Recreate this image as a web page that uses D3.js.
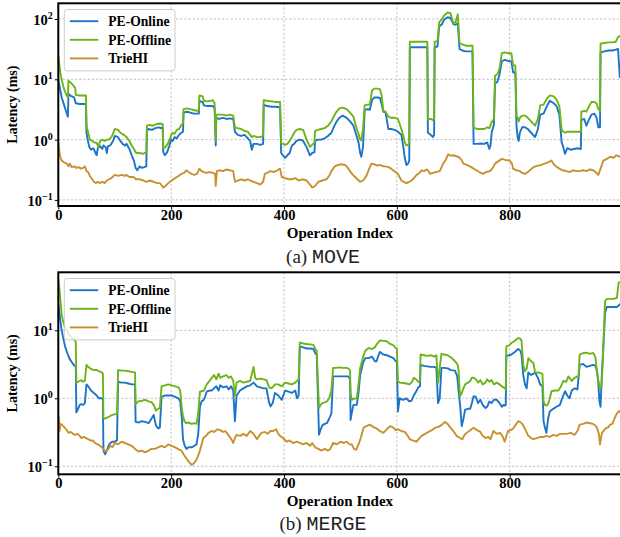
<!DOCTYPE html>
<html><head><meta charset="utf-8">
<script src="https://cdn.jsdelivr.net/npm/d3@7"></script>
<style>body{margin:0;background:#fff}svg{display:block}</style>
</head><body>
<svg id="c" width="620" height="537"></svg>
<script>
const seriesNames = ["PE-Online", "PE-Offline", "TrieHI"];
const seriesColors = ["#1c74c8", "#6db31a", "#c8912f"];
const xTicks = [0, 200, 400, 600, 800];
const moveYTicks = [0.1, 1, 10, 100];
const mergeYTicks = [0.1, 1, 10];
const captions = [["(a)", "MOVE"], ["(b)", "MERGE"]];

const moveOnline = [[0,10],[3,7],[6,5],[10,3.8],[14,2.9],[17,2.4],[18,5.8],[22,5.3],[28,5.0],[31,4.0],[38,3.9],[44,3.9],[49,3.9],[50,1.3],[52,1.0],[55,0.75],[58,0.68],[62,0.72],[66,0.6],[68,0.55],[70,0.72],[74,0.78],[78,0.7],[80,0.8],[84,0.75],[86,0.6],[88,0.78],[92,0.8],[97,0.95],[100,1.15],[106,1.1],[110,0.95],[114,0.85],[118,0.8],[121,0.85],[126,0.7],[130,0.55],[134,0.45],[137,0.34],[140,0.31],[144,0.36],[148,0.34],[152,0.35],[156,0.36],[157,1.4],[160,1.5],[166,1.45],[172,1.55],[178,1.6],[182,1.55],[185,1.6],[186,0.62],[189,0.55],[193,0.62],[197,0.8],[200,1.0],[203,0.95],[206,1.1],[210,1.05],[214,1.2],[218,1.3],[221,1.35],[222,2.8],[228,2.9],[234,2.8],[240,2.7],[246,2.7],[249,2.7],[250,4.4],[256,4.2],[258,3.7],[264,3.6],[270,3.6],[274,3.6],[277,3.3],[279,0.8],[280,2.3],[285,2.2],[292,2.3],[298,2.2],[304,2.25],[310,2.2],[313,1.35],[318,1.2],[324,1.15],[330,1.2],[336,1.05],[340,0.95],[343,0.68],[346,0.85],[352,0.85],[358,0.82],[363,0.85],[364,3.8],[370,3.6],[378,3.5],[386,3.5],[393,3.4],[395,0.6],[398,0.55],[402,0.5],[406,0.55],[410,0.6],[414,0.8],[418,0.85],[422,0.95],[428,1.0],[434,0.95],[440,0.75],[446,0.55],[450,0.6],[454,0.62],[455,0.95],[460,1.0],[466,1.0],[472,1.05],[478,1.15],[484,1.3],[488,1.6],[492,1.9],[498,2.3],[504,2.5],[511,2.3],[517,2.0],[523,1.7],[528,1.2],[532,0.9],[535,0.6],[537,0.52],[540,0.75],[543,3.1],[548,3.2],[552,3.1],[556,4.5],[560,5.0],[566,5.0],[570,4.9],[573,3.9],[576,2.9],[580,2.8],[585,1.5],[590,1.5],[596,1.45],[602,1.35],[608,1.2],[612,0.7],[614,0.5],[617,0.38],[620,0.4],[622,0.45],[623,34],[630,34],[640,34],[650,34],[654,34],[655,1.3],[660,1.2],[664,1.1],[666,1.2],[667,34],[672,35],[675,75],[680,82],[684,98],[690,107],[695,104],[700,82],[704,80],[708,85],[711,32],[716,30],[722,29],[728,29],[734,29],[736,0.85],[742,0.85],[748,0.86],[755,0.85],[760,0.9],[764,0.7],[766,0.8],[768,1.3],[772,1.8],[774,8.5],[778,9],[782,12],[786,20],[792,21],[798,20],[803,20],[806,13],[810,13],[812,1.7],[814,1.1],[816,0.95],[818,1.3],[822,1.6],[827,1.6],[832,1.5],[838,1.3],[845,1.1],[850,1.5],[854,2.6],[860,2.7],[866,3.6],[871,4.4],[878,4.0],[883,3.6],[888,2.6],[892,0.9],[895,0.75],[898,0.58],[902,0.72],[908,0.68],[914,0.7],[920,0.72],[926,0.7],[927,2.1],[932,2.2],[936,1.7],[940,2.1],[945,2.6],[950,2.7],[954,2.3],[957,1.6],[960,1.6],[961,28],[968,29],[975,30],[982,30],[988,31],[992,32],[995,11],[999,10]];

const moveOffline = [[0,25],[2,17],[4,12],[7,9],[10,7],[14,5.6],[17,5.0],[18,9.5],[22,8.8],[26,8],[30,7.2],[31,5.5],[38,5.4],[44,5.4],[49,5.4],[50,1.7],[53,1.3],[56,1.0],[60,0.95],[64,0.9],[68,0.88],[71,0.75],[74,0.95],[78,1.0],[82,0.95],[86,1.0],[90,1.0],[94,1.1],[97,1.25],[100,1.5],[106,1.45],[110,1.3],[116,1.2],[121,1.1],[126,0.95],[130,0.8],[134,0.7],[138,0.6],[144,0.6],[150,0.58],[156,0.62],[157,1.7],[162,1.75],[168,1.7],[174,1.8],[180,1.85],[185,1.8],[186,0.72],[190,0.75],[194,0.85],[198,1.05],[202,1.3],[206,1.25],[210,1.45],[214,1.5],[218,1.75],[221,1.85],[222,3.2],[228,3.3],[234,3.2],[240,3.1],[246,3.0],[249,3.1],[250,5.4],[256,5.2],[258,4.4],[264,4.3],[270,4.4],[274,4.5],[277,4.0],[279,0.95],[280,2.6],[285,2.6],[292,2.6],[298,2.5],[304,2.6],[310,2.5],[313,1.6],[318,1.55],[324,1.5],[330,1.4],[336,1.35],[340,1.2],[343,1.1],[346,1.15],[352,1.1],[358,1.1],[363,1.15],[364,4.5],[370,4.4],[378,4.3],[386,4.2],[393,4.2],[395,0.86],[398,0.85],[402,0.82],[406,0.85],[410,0.95],[414,1.1],[418,1.3],[422,1.45],[428,1.5],[434,1.45],[440,1.0],[446,0.76],[450,0.82],[454,0.9],[455,1.4],[460,1.45],[466,1.5],[472,1.55],[478,1.7],[484,2.0],[488,2.4],[492,2.8],[498,3.3],[504,3.4],[511,3.2],[517,2.8],[523,2.4],[528,1.6],[532,1.25],[535,1.0],[537,0.97],[540,1.5],[543,3.7],[548,3.8],[552,3.8],[556,6.5],[560,7.0],[566,7.0],[570,6.8],[573,5.4],[576,3.0],[580,2.9],[585,2.4],[590,2.3],[596,2.3],[602,2.2],[608,1.5],[612,1.1],[614,0.9],[617,0.8],[620,0.82],[622,0.85],[623,42],[630,42],[640,42],[650,42],[654,42],[655,2.2],[660,2.2],[664,2.1],[666,2.2],[667,42],[672,43],[675,88],[680,100],[684,115],[690,128],[695,125],[700,85],[704,88],[708,120],[711,40],[716,38],[722,36],[728,36],[734,36],[736,1.6],[742,1.5],[748,1.5],[755,1.5],[760,1.6],[764,1.55],[768,1.95],[772,2.2],[774,11.5],[778,12],[782,15],[786,27],[792,28],[798,27],[803,27],[806,17],[810,17],[812,2.5],[814,2.3],[816,2.0],[818,2.3],[822,2.5],[827,2.5],[832,2.3],[838,2.0],[845,1.7],[850,2.2],[854,3.7],[860,3.8],[866,4.8],[871,5.4],[878,5.2],[883,4.6],[888,3.6],[892,1.45],[895,1.35],[898,1.3],[902,1.35],[908,1.35],[914,1.35],[920,1.35],[926,1.35],[927,2.9],[932,3.0],[936,2.9],[940,3.5],[945,4.2],[950,4.2],[954,4.0],[957,3.2],[960,3.0],[961,39],[968,40],[975,41],[982,41],[988,42],[992,50],[995,52],[999,50]];

const moveTrie = [[0,0.92],[2,0.6],[4,0.5],[6,0.45],[10,0.42],[15,0.4],[18,0.36],[20,0.4],[24,0.35],[28,0.36],[32,0.34],[36,0.35],[40,0.33],[44,0.34],[47,0.36],[50,0.3],[53,0.29],[56,0.25],[60,0.22],[63,0.2],[67,0.19],[70,0.2],[74,0.19],[78,0.2],[82,0.19],[86,0.21],[90,0.22],[94,0.23],[100,0.26],[106,0.25],[112,0.26],[118,0.25],[121,0.26],[126,0.24],[133,0.24],[138,0.22],[144,0.22],[151,0.21],[156,0.2],[162,0.21],[169,0.2],[175,0.19],[180,0.19],[184,0.17],[186,0.16],[190,0.17],[195,0.19],[201,0.21],[207,0.23],[213,0.25],[218,0.27],[223,0.28],[227,0.31],[231,0.29],[236,0.27],[241,0.26],[246,0.27],[250,0.33],[254,0.3],[258,0.29],[263,0.28],[268,0.29],[274,0.28],[278,0.27],[279,0.17],[281,0.3],[286,0.31],[292,0.3],[298,0.32],[304,0.31],[310,0.3],[313,0.2],[318,0.21],[324,0.22],[330,0.21],[336,0.22],[340,0.21],[346,0.2],[352,0.19],[358,0.18],[363,0.2],[366,0.27],[370,0.28],[376,0.3],[382,0.29],[388,0.31],[393,0.33],[396,0.24],[402,0.23],[408,0.22],[414,0.22],[420,0.23],[426,0.21],[432,0.22],[440,0.21],[446,0.18],[450,0.16],[455,0.17],[461,0.2],[468,0.21],[475,0.22],[480,0.25],[484,0.3],[490,0.36],[496,0.38],[502,0.39],[508,0.38],[511,0.36],[517,0.3],[522,0.26],[526,0.24],[530,0.22],[535,0.2],[540,0.21],[546,0.25],[551,0.33],[555,0.4],[560,0.39],[566,0.37],[570,0.38],[576,0.36],[580,0.36],[585,0.35],[590,0.33],[596,0.3],[602,0.27],[608,0.21],[612,0.2],[617,0.19],[622,0.2],[626,0.21],[630,0.23],[635,0.26],[640,0.28],[644,0.31],[648,0.3],[653,0.32],[656,0.3],[659,0.27],[664,0.28],[670,0.29],[676,0.3],[682,0.4],[686,0.45],[691,0.57],[696,0.54],[700,0.55],[705,0.53],[709,0.52],[714,0.47],[718,0.4],[724,0.38],[732,0.35],[736,0.33],[741,0.31],[746,0.29],[753,0.27],[758,0.29],[765,0.3],[770,0.34],[774,0.4],[780,0.44],[786,0.48],[792,0.46],[800,0.45],[804,0.4],[806,0.33],[812,0.31],[818,0.3],[822,0.28],[827,0.27],[832,0.29],[836,0.31],[842,0.35],[850,0.37],[856,0.38],[862,0.4],[868,0.42],[874,0.45],[878,0.39],[882,0.36],[888,0.33],[894,0.31],[900,0.3],[906,0.29],[912,0.31],[918,0.3],[924,0.3],[930,0.31],[936,0.3],[942,0.32],[948,0.31],[952,0.29],[957,0.26],[962,0.35],[966,0.45],[972,0.48],[978,0.52],[984,0.5],[989,0.55],[995,0.52],[999,0.5]];

const mergeOnline = [[0,25],[2,18],[4,13],[6,10],[9,7.5],[12,5.8],[16,4.6],[20,3.8],[25,3.3],[29,3.0],[31,2.9],[32,0.62],[35,0.7],[38,0.8],[41,0.82],[44,0.8],[47,0.85],[50,1.6],[53,1.5],[58,1.3],[63,1.2],[68,1.1],[72,1.0],[77,1.0],[79,0.95],[80,0.17],[83,0.15],[86,0.17],[89,0.2],[92,0.22],[96,0.23],[100,0.23],[104,0.24],[106,1.75],[112,1.7],[118,1.7],[124,1.65],[130,1.6],[136,1.6],[137,0.45],[142,0.44],[148,0.46],[154,0.45],[160,0.43],[165,0.5],[169,0.57],[173,0.4],[177,0.36],[180,0.37],[183,1.05],[189,1.1],[195,1.1],[201,1.1],[207,1.05],[213,1.0],[216,0.9],[219,0.5],[221,0.25],[224,0.2],[227,0.18],[231,0.19],[236,0.19],[241,0.2],[245,0.21],[248,0.3],[251,0.75],[254,0.9],[258,0.95],[263,1.25],[268,1.3],[272,1.3],[276,1.4],[280,1.5],[284,1.3],[287,1.55],[292,1.45],[298,1.5],[302,1.35],[306,1.5],[310,1.3],[313,0.46],[316,1.1],[322,1.3],[328,1.4],[334,1.5],[340,1.55],[346,1.7],[352,1.5],[358,1.45],[364,1.4],[369,1.4],[373,0.9],[376,0.76],[380,0.85],[384,1.2],[390,1.1],[396,0.95],[402,1.3],[408,1.25],[414,1.2],[420,1.3],[423,1.0],[426,1.1],[428,5.8],[434,5.6],[440,5.4],[446,5.4],[452,5.3],[456,4.5],[458,4.4],[462,0.29],[465,0.35],[468,0.4],[472,0.42],[476,0.43],[480,0.5],[484,0.6],[487,2.1],[492,2.1],[498,2.1],[504,2.1],[510,2.1],[514,2.1],[517,1.9],[518,0.48],[520,0.6],[523,0.8],[529,0.8],[532,1.2],[535,2.2],[540,3.3],[544,3.9],[550,3.9],[556,4.1],[561,3.5],[564,3.5],[567,4.2],[570,4.8],[576,4.4],[582,4.3],[588,4.1],[594,3.9],[597,3.6],[600,3.4],[602,0.64],[605,1.0],[611,0.95],[617,1.0],[622,0.9],[626,0.92],[630,1.1],[634,1.25],[638,1.45],[641,1.5],[642,3.1],[648,3.0],[654,2.95],[660,2.9],[666,2.9],[670,2.8],[673,0.85],[676,1.0],[679,2.8],[684,2.8],[690,2.75],[696,2.6],[703,2.55],[707,2.1],[709,1.4],[712,0.8],[715,0.39],[718,0.5],[721,0.68],[726,0.7],[730,0.7],[733,0.85],[736,1.07],[740,1.05],[744,0.85],[748,0.95],[752,0.8],[757,0.72],[760,0.75],[764,0.9],[768,0.85],[772,0.95],[777,0.95],[782,0.85],[786,0.75],[789,0.8],[791,0.78],[793,0.8],[794,4.2],[799,4.3],[803,4.4],[809,4.8],[815,5.3],[819,5.0],[821,4.3],[824,2.2],[827,1.6],[830,1.4],[833,2.4],[838,2.2],[842,2.3],[845,2.4],[850,2.0],[854,1.6],[858,1.5],[860,0.46],[862,0.38],[865,0.31],[868,0.5],[871,0.64],[877,0.7],[883,0.75],[889,0.8],[893,1.0],[898,1.27],[902,1.1],[906,1.0],[910,1.3],[915,1.4],[920,1.35],[924,3.1],[930,3.2],[936,2.9],[942,3.0],[948,3.1],[952,3.0],[955,2.5],[957,1.7],[959,0.9],[961,0.75],[963,2.0],[966,5.8],[969,18],[972,22],[978,22],[984,22],[990,22],[995,24],[999,25]];

const mergeOffline = [[0,55],[2,40],[4,26],[6,17],[9,13],[12,11],[16,9.5],[20,8.5],[25,7.6],[29,7.1],[31,6.8],[32,1.7],[35,1.75],[38,1.8],[41,1.85],[44,1.75],[47,1.8],[50,3.1],[53,2.9],[58,2.7],[63,2.6],[68,2.6],[72,2.5],[77,2.4],[79,2.3],[80,0.52],[83,0.5],[86,0.52],[89,0.53],[92,0.55],[96,0.57],[100,0.58],[104,0.6],[106,2.6],[112,2.55],[118,2.55],[124,2.5],[130,2.45],[136,2.4],[137,0.82],[142,0.9],[148,0.92],[154,0.95],[160,0.9],[165,0.88],[169,0.8],[173,0.66],[177,0.7],[180,0.72],[183,1.5],[189,1.55],[195,1.6],[201,1.55],[207,1.5],[213,1.45],[216,1.3],[219,0.7],[221,0.55],[224,0.45],[227,0.43],[231,0.44],[236,0.42],[241,0.43],[245,0.42],[248,0.6],[251,1.25],[254,1.27],[258,1.3],[263,1.6],[268,1.8],[272,2.0],[276,2.2],[280,1.9],[284,2.3],[287,2.0],[292,2.1],[298,2.2],[302,2.0],[306,2.1],[310,1.8],[313,1.1],[316,1.7],[322,1.8],[328,1.7],[334,1.75],[340,1.8],[346,2.9],[349,2.0],[352,1.9],[358,1.95],[364,1.9],[369,1.85],[373,1.5],[376,1.4],[380,1.45],[384,1.6],[390,1.6],[396,1.5],[402,1.7],[408,1.65],[414,1.6],[420,1.7],[423,1.8],[426,1.9],[428,6.6],[434,6.4],[440,6.3],[446,6.2],[452,6.1],[456,5.2],[458,5.0],[462,0.72],[465,0.8],[468,0.85],[472,0.87],[476,0.9],[480,1.0],[484,1.3],[487,2.8],[492,2.8],[498,2.85],[504,2.8],[510,2.8],[514,2.75],[517,2.6],[518,1.2],[520,0.95],[523,0.98],[529,1.0],[532,1.6],[535,2.8],[540,4.0],[544,5.0],[550,5.5],[556,5.3],[561,5.6],[564,6.2],[567,6.6],[570,7.1],[576,7.0],[582,6.9],[588,6.3],[594,6.0],[597,5.6],[600,5.4],[602,1.78],[605,1.7],[611,1.68],[617,1.65],[622,1.6],[626,1.7],[630,2.0],[634,1.9],[638,1.75],[641,1.8],[642,4.4],[648,4.3],[654,4.2],[660,4.3],[666,4.1],[670,4.3],[673,1.7],[676,2.8],[679,4.5],[684,4.4],[690,4.3],[696,4.0],[703,3.5],[707,3.2],[709,2.8],[712,1.07],[715,1.2],[718,1.4],[721,1.6],[726,1.7],[730,1.8],[733,2.0],[736,2.0],[740,1.9],[744,1.7],[748,1.85],[752,1.6],[757,1.7],[760,1.9],[764,1.75],[768,1.85],[772,1.6],[777,1.7],[782,1.6],[786,1.5],[789,1.45],[791,1.4],[793,1.35],[794,5.8],[799,6.0],[803,6.5],[809,7.0],[815,7.7],[819,7.5],[821,7.0],[824,3.1],[827,2.5],[830,2.7],[833,3.9],[838,3.5],[842,3.3],[845,2.4],[850,2.4],[854,2.35],[858,2.3],[860,0.9],[862,0.8],[865,0.78],[868,0.82],[871,1.0],[874,1.27],[880,1.3],[886,1.3],[890,1.45],[895,1.8],[900,1.75],[904,2.1],[910,1.8],[915,2.0],[920,2.1],[922,2.1],[924,4.4],[930,4.6],[936,4.7],[942,4.5],[948,4.65],[952,4.0],[955,2.2],[958,1.7],[960,1.4],[963,1.5],[966,6.0],[969,27],[972,29],[978,29],[984,29],[990,30],[993,50],[997,52],[999,50]];

const mergeTrie = [[0,0.55],[1,0.51],[2,0.33],[4,0.42],[6,0.41],[10,0.38],[14,0.35],[18,0.31],[22,0.32],[26,0.3],[30,0.29],[34,0.3],[38,0.28],[41,0.26],[45,0.27],[49,0.26],[53,0.25],[57,0.24],[61,0.24],[65,0.22],[70,0.21],[74,0.2],[77,0.19],[80,0.18],[83,0.165],[86,0.17],[89,0.18],[92,0.2],[96,0.19],[100,0.22],[106,0.21],[112,0.23],[118,0.22],[124,0.21],[130,0.2],[136,0.18],[142,0.165],[148,0.17],[154,0.16],[160,0.17],[165,0.18],[171,0.18],[177,0.19],[183,0.2],[189,0.19],[195,0.21],[201,0.2],[207,0.19],[212,0.18],[218,0.17],[222,0.15],[227,0.13],[232,0.115],[236,0.105],[240,0.11],[245,0.125],[250,0.16],[254,0.21],[257,0.26],[262,0.28],[266,0.31],[272,0.33],[276,0.32],[282,0.35],[287,0.34],[292,0.32],[296,0.33],[300,0.3],[304,0.27],[308,0.24],[310,0.22],[313,0.26],[316,0.29],[322,0.28],[328,0.3],[334,0.28],[340,0.33],[346,0.3],[352,0.25],[356,0.28],[360,0.31],[366,0.32],[371,0.3],[376,0.33],[381,0.33],[386,0.35],[390,0.3],[393,0.28],[398,0.26],[405,0.23],[410,0.24],[416,0.22],[423,0.23],[428,0.22],[434,0.21],[440,0.22],[446,0.2],[450,0.22],[455,0.19],[461,0.18],[466,0.17],[472,0.18],[478,0.17],[482,0.18],[487,0.22],[494,0.21],[500,0.23],[506,0.22],[511,0.23],[516,0.21],[520,0.21],[524,0.18],[528,0.175],[532,0.21],[536,0.26],[541,0.37],[546,0.39],[552,0.41],[558,0.38],[564,0.36],[570,0.33],[576,0.31],[582,0.35],[588,0.39],[594,0.37],[598,0.34],[602,0.35],[608,0.33],[614,0.32],[618,0.29],[623,0.25],[628,0.24],[635,0.23],[640,0.26],[644,0.28],[650,0.3],[656,0.32],[662,0.34],[668,0.37],[674,0.38],[680,0.41],[685,0.45],[690,0.42],[695,0.37],[700,0.33],[706,0.28],[712,0.26],[716,0.25],[720,0.29],[724,0.31],[730,0.34],[736,0.37],[742,0.34],[748,0.32],[752,0.28],[757,0.26],[762,0.27],[766,0.25],[771,0.33],[777,0.3],[783,0.31],[788,0.27],[791,0.23],[797,0.33],[802,0.34],[806,0.36],[810,0.4],[815,0.46],[820,0.44],[824,0.4],[828,0.34],[833,0.28],[838,0.26],[842,0.25],[848,0.26],[854,0.27],[860,0.27],[865,0.28],[871,0.27],[877,0.29],[883,0.28],[889,0.3],[895,0.3],[901,0.3],[908,0.31],[915,0.29],[920,0.33],[924,0.41],[930,0.42],[936,0.44],[942,0.43],[948,0.42],[954,0.38],[958,0.3],[960,0.21],[963,0.3],[966,0.33],[970,0.36],[974,0.37],[978,0.41],[982,0.42],[986,0.51],[990,0.6],[994,0.65],[999,0.6]];

const svg = d3.select("#c");
const SERIF = "'Liberation Serif','Times New Roman',serif";
const MONO = "'Liberation Mono','Courier New',monospace";
const x = d3.scaleLinear().domain([0, 999]).range([58.3, 622]);

const panels = [
  {top: 3.3, bottom: 206, dom: [0.0793, 182], yTicks: moveYTicks, data: [moveOnline, moveOffline, moveTrie], cap: captions[0], xlabY: 238, capY: 263, id: "a"},
  {top: 272.3, bottom: 474.3, dom: [0.0762, 71.3], yTicks: mergeYTicks, data: [mergeOnline, mergeOffline, mergeTrie], cap: captions[1], xlabY: 505.5, capY: 530, id: "b"}
];

const defs = svg.append("defs");

panels.forEach(p => {
  const y = d3.scaleLog().domain(p.dom).range([p.bottom, p.top]);
  const g = svg.append("g");
  defs.append("clipPath").attr("id", "clip" + p.id).append("rect")
    .attr("x", x.range()[0]).attr("y", p.top).attr("width", x.range()[1] - x.range()[0]).attr("height", p.bottom - p.top);

  // grid
  g.append("g").selectAll("line").data(xTicks).join("line")
    .attr("x1", d => x(d)).attr("x2", d => x(d)).attr("y1", p.top).attr("y2", p.bottom)
    .attr("stroke", "#b0b0b0").attr("stroke-width", 0.8).attr("stroke-dasharray", "2.2,2");
  g.append("g").selectAll("line").data(p.yTicks).join("line")
    .attr("x1", x.range()[0]).attr("x2", x.range()[1]).attr("y1", d => y(d)).attr("y2", d => y(d))
    .attr("stroke", "#b0b0b0").attr("stroke-width", 0.8).attr("stroke-dasharray", "2.2,2");

  // lines
  const line = d3.line().x(d => x(d[0])).y(d => y(d[1]));
  const lg = g.append("g").attr("clip-path", `url(#clip${p.id})`);
  p.data.forEach((ser, k) => {
    lg.append("path").datum(ser).attr("d", line).attr("fill", "none")
      .attr("stroke", seriesColors[k]).attr("stroke-width", 1.9).attr("stroke-linejoin", "round");
  });

  // axes
  const xa = g.append("g").attr("transform", `translate(0,${p.bottom})`)
    .call(d3.axisBottom(x).tickValues(xTicks).tickSize(3.5).tickFormat(d3.format("d")));
  xa.select(".domain").remove();
  xa.selectAll("line").attr("stroke", "#000").attr("stroke-width", 1);
  xa.selectAll("text").attr("y", 14).attr("dy", 0).attr("font-family", SERIF).attr("font-weight", "bold")
    .attr("font-size", 14.5).attr("fill", "#000");

  const ya = g.append("g").attr("transform", `translate(${x.range()[0]},0)`)
    .call(d3.axisLeft(y).tickValues(p.yTicks).tickSize(3.5).tickFormat(""));
  ya.select(".domain").remove();
  ya.selectAll("line").attr("stroke", "#000").attr("stroke-width", 1);
  ya.selectAll(".tick").each(function(d) {
    const e = Math.round(Math.log10(d));
    const t = d3.select(this).append("text").attr("x", -5.5).attr("y", 5.5)
      .attr("text-anchor", "end").attr("font-family", SERIF).attr("font-weight", "bold")
      .attr("font-size", 14.5).attr("fill", "#000");
    t.append("tspan").text("10");
    t.append("tspan").attr("dy", -6).attr("font-size", 10).text(e < 0 ? "\u2212" + (-e) : String(e));
  });

  // frame
  g.append("rect").attr("x", x.range()[0]).attr("y", p.top)
    .attr("width", x.range()[1] - x.range()[0]).attr("height", p.bottom - p.top)
    .attr("fill", "none").attr("stroke", "#000").attr("stroke-width", 2);

  // labels
  g.append("text").attr("transform", `translate(17,${(p.top + p.bottom) / 2}) rotate(-90)`)
    .attr("text-anchor", "middle").attr("font-family", SERIF).attr("font-weight", "bold")
    .attr("font-size", 14).text("Latency (ms)");
  g.append("text").attr("x", 340).attr("y", p.xlabY).attr("text-anchor", "middle")
    .attr("font-family", SERIF).attr("font-weight", "bold").attr("font-size", 15).text("Operation Index");

  const cap = g.append("text").attr("x", 323).attr("y", p.capY).attr("text-anchor", "middle").attr("fill", "#222");
  cap.append("tspan").attr("font-family", SERIF).attr("font-size", 19).text(p.cap[0] + " ");
  cap.append("tspan").attr("font-family", MONO).attr("font-size", 20).text(p.cap[1]);

  // legend
  const L = g.append("g").attr("transform", `translate(64.3,${p.top + 6.2})`);
  L.append("rect").attr("width", 110.7).attr("height", 61.4).attr("rx", 3)
    .attr("fill", "#fff").attr("fill-opacity", 0.8).attr("stroke", "#cccccc").attr("stroke-width", 1);
  seriesNames.forEach((n, k) => {
    const ry = 11.7 + k * 18.6;
    L.append("line").attr("x1", 5.5).attr("x2", 34).attr("y1", ry).attr("y2", ry)
      .attr("stroke", seriesColors[k]).attr("stroke-width", 1.9);
    L.append("text").attr("x", 44).attr("y", ry + 5).attr("font-family", SERIF).attr("font-weight", "bold")
      .attr("font-size", 13.6).text(n);
  });
});
</script>
</body></html>
